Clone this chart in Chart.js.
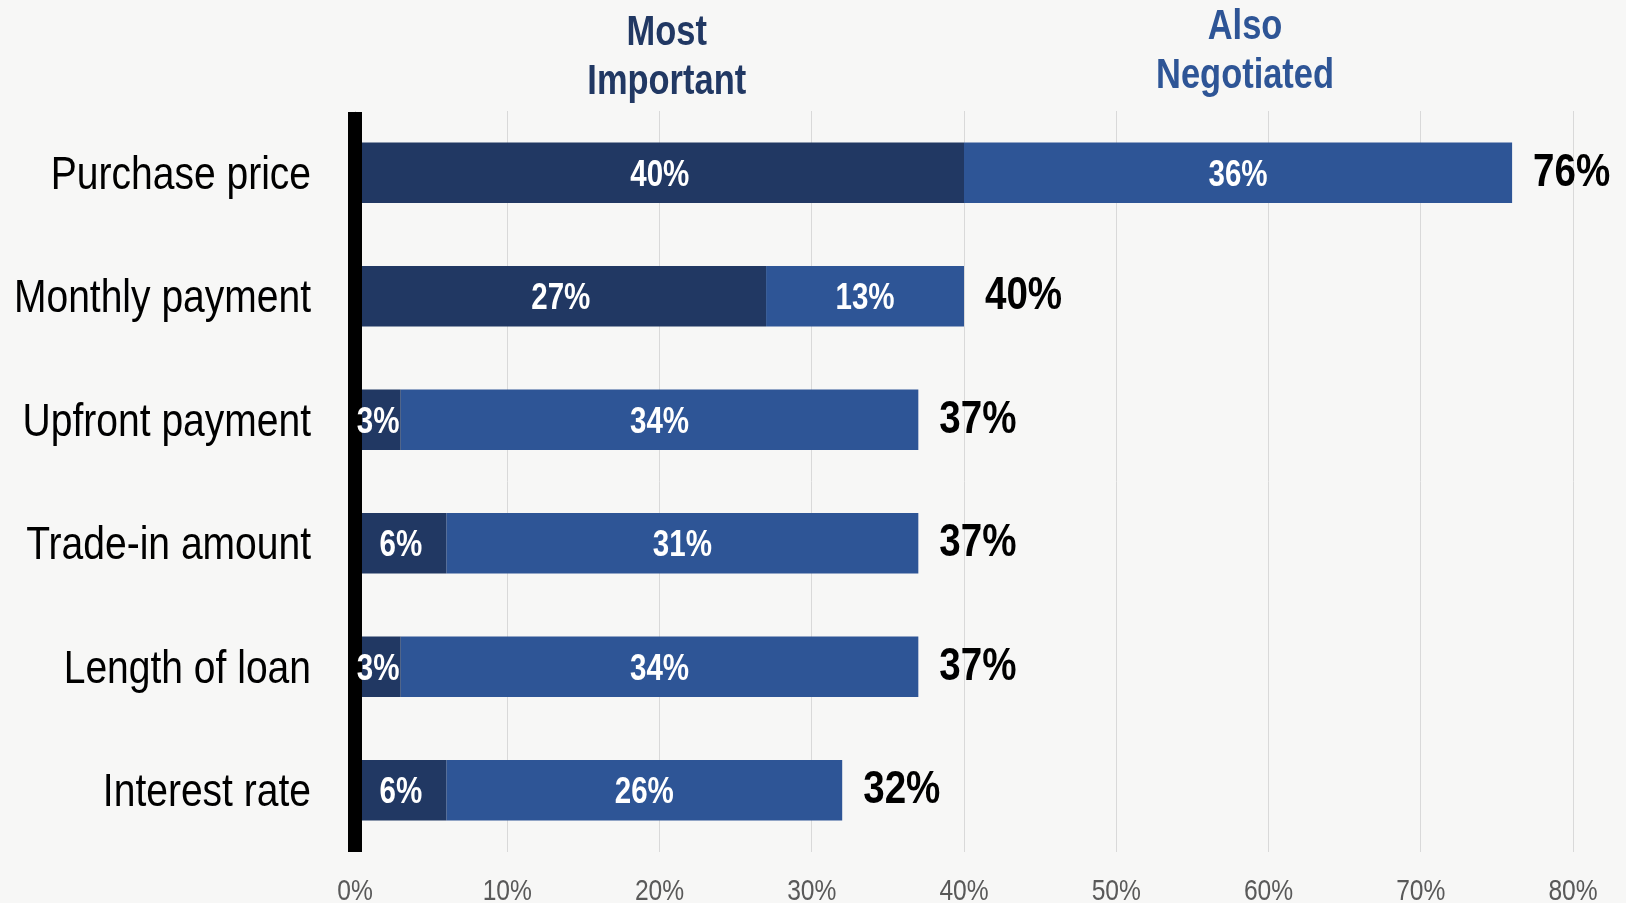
<!DOCTYPE html>
<html>
<head>
<meta charset="utf-8">
<title>Negotiated items</title>
<script src="https://cdn.jsdelivr.net/npm/chart.js@4/dist/chart.umd.min.js"></script>
<style>
  html, body { margin: 0; padding: 0; background: #f7f7f6; }
  #wrap { width: 1626px; height: 903px; }
</style>
</head>
<body>
<div id="wrap"><canvas id="negChart" width="1626" height="903"></canvas></div>
<script>
const categories = ['Purchase price', 'Monthly payment', 'Upfront payment', 'Trade-in amount', 'Length of loan', 'Interest rate'];
const mostImportant = [40, 27, 3, 6, 3, 6];
const alsoNegotiated = [36, 13, 34, 31, 34, 26];
const totals = [76, 40, 37, 37, 37, 32];
const xTicks = [0, 10, 20, 30, 40, 50, 60, 70, 80];
const headers = [['Most', 'Important'], ['Also', 'Negotiated']];

const SANS = '"Liberation Sans", Arial, sans-serif';
const DARK = '#213863';
const LIGHT = '#2e5596';

// Liberation Sans squeezed sideways stands in for Arial Narrow
function narrowText(ctx, text, x, y, align, squeeze) {
    ctx.save();
    ctx.translate(x, y);
    ctx.scale(squeeze || 0.82, 1);
    ctx.textAlign = align;
    ctx.fillText(text, 0, 0);
    ctx.restore();
}

const axisLinePlugin = {
    id: 'axisLine',
    afterDatasetsDraw(chart) {
        const { ctx, chartArea, scales } = chart;
        const x0 = scales.x.getPixelForValue(0);
        ctx.save();
        ctx.fillStyle = '#000000';
        ctx.fillRect(x0 - 7, chartArea.top + 1, 14, chartArea.bottom - chartArea.top - 1);
        ctx.restore();
    }
};

// tick labels, segment values, totals and the two column headers
const labelPlugin = {
    id: 'barLabels',
    afterDraw(chart) {
        const { ctx, chartArea, scales } = chart;
        ctx.save();
        ctx.textBaseline = 'middle';

        ctx.fillStyle = '#595959';
        ctx.font = '30px ' + SANS;
        xTicks.forEach(v => {
            narrowText(ctx, v + '%', scales.x.getPixelForValue(v), 892, 'center');
        });

        ctx.fillStyle = '#000000';
        ctx.font = '47px ' + SANS;
        categories.forEach((c, i) => {
            narrowText(ctx, c, chartArea.left - 44, scales.y.getPixelForValue(i) + 3, 'right', 0.83);
        });

        ctx.fillStyle = '#ffffff';
        ctx.font = 'bold 36px ' + SANS;
        chart.data.datasets.forEach((ds, di) => {
            chart.getDatasetMeta(di).data.forEach((bar, i) => {
                const cx = (bar.x + bar.base) / 2;
                narrowText(ctx, ds.data[i] + '%', cx, bar.y + 3, 'center');
            });
        });

        ctx.fillStyle = '#000000';
        ctx.font = 'bold 47px ' + SANS;
        chart.getDatasetMeta(1).data.forEach((bar, i) => {
            narrowText(ctx, totals[i] + '%', bar.x + 21, bar.y, 'left');
        });

        ctx.textBaseline = 'alphabetic';
        ctx.font = 'bold 42px ' + SANS;
        const colours = [DARK, LIGHT];
        const baselines = [[45, 94], [39, 88]];
        headers.forEach((lines, di) => {
            const bar = chart.getDatasetMeta(di).data[0];
            const cx = (bar.x + bar.base) / 2 + 7;
            ctx.fillStyle = colours[di];
            lines.forEach((t, li) => narrowText(ctx, t, cx, baselines[di][li], 'center'));
        });
        ctx.restore();
    }
};

const ctx = document.getElementById('negChart').getContext('2d');
new Chart(ctx, {
    type: 'bar',
    data: {
        labels: categories,
        datasets: [
            { label: 'Most Important', data: mostImportant, backgroundColor: DARK },
            { label: 'Also Negotiated', data: alsoNegotiated, backgroundColor: LIGHT }
        ]
    },
    options: {
        indexAxis: 'y',
        responsive: false,
        animation: false,
        layout: { padding: { top: 111, right: 53, left: 0, bottom: 0 } },
        datasets: { bar: { categoryPercentage: 1, barPercentage: 0.49 } },
        plugins: {
            legend: { display: false },
            tooltip: { enabled: false }
        },
        scales: {
            x: {
                stacked: true,
                min: 0,
                max: 80,
                afterBuildTicks(scale) {
                    scale.ticks = xTicks.map(v => ({ value: v }));
                },
                afterFit(scale) { scale.height = 51; },
                grid: { color: '#d9d9d9', lineWidth: 1, drawTicks: false },
                border: { display: false },
                ticks: { display: false }
            },
            y: {
                stacked: true,
                afterFit(scale) { scale.width = 355; },
                grid: { display: false, drawTicks: false },
                border: { display: false },
                ticks: { display: false }
            }
        }
    },
    plugins: [axisLinePlugin, labelPlugin]
});
</script>
</body>
</html>
